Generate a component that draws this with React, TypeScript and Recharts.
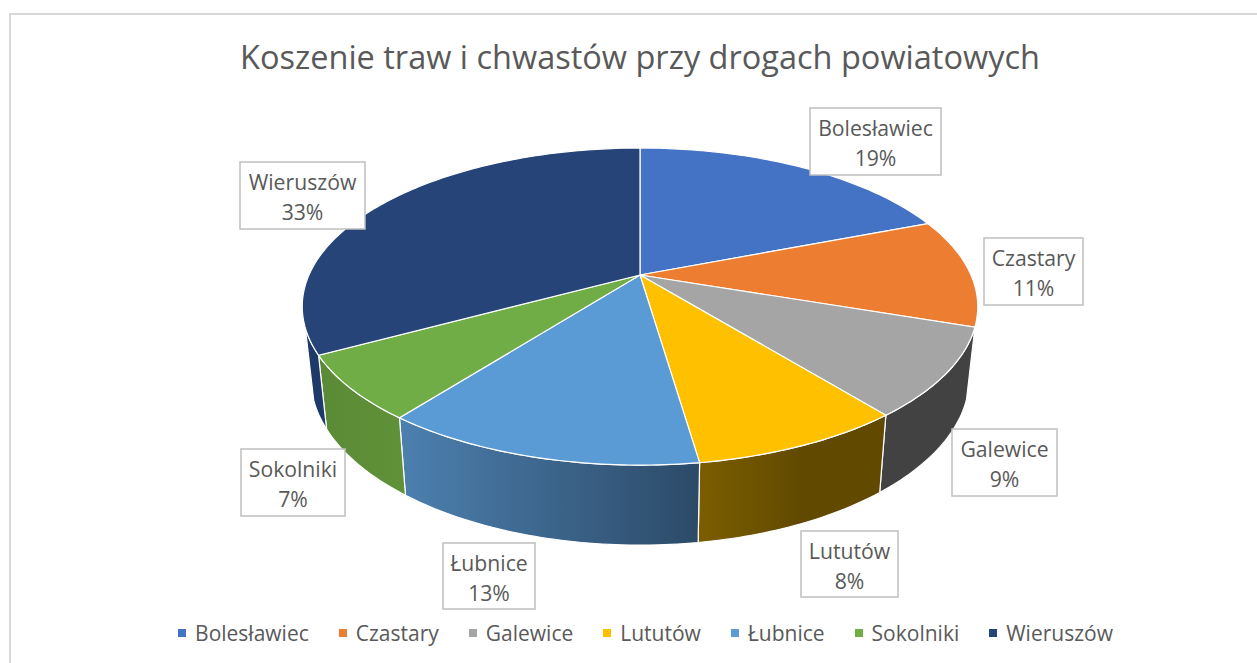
import { Legend, Pie, PieChart } from "recharts"

const categories = ["Bolesławiec", "Czastary", "Galewice", "Lututów", "Łubnice", "Sokolniki", "Wieruszów"]
const shares = [19.1, 11.1, 9.0, 8.49, 12.8, 6.6, 32.91]
const topColors = ["#4472C4", "#ED7D31", "#A5A5A5", "#FFC000", "#5B9BD5", "#70AD47", "#264478"]
const wallStart = ["#4472C4", "#ED7D31", "#424242", "#7C5E00", "#4C80AF", "#5A8A35", "#1E3A68"]
const wallEnd = ["#4472C4", "#ED7D31", "#424242", "#614900", "#2C4A68", "#609239", "#1E3A68"]
const wallBreak = ["100%", "100%", "100%", "55%", "100%", "100%", "100%"]

const rows = categories.map((name, i) => ({ name, value: shares[i], fill: topColors[i] }))

// label boxes, x0 y0 x1 y1
const labelBoxes = [
  [810, 108, 941, 175],
  [984, 238, 1083, 305],
  [952, 429, 1057, 496],
  [801, 531, 898, 597],
  [443, 543, 535, 609],
  [241, 449, 345, 516],
  [240, 162, 365, 229],
]

const W = 1257
const H = 663
const FONT = "'Open Sans', sans-serif"
const TEXT = "#595959"

// excel style perspective of the disc
const TILT = 0.46
const PERSP = 0.199
const WALL_FROM = 108.7
const WALL_TO = 251

function project(cx: number, cy: number, r: number, theta: number) {
  const t = (theta * Math.PI) / 180
  const u = Math.sin(t)
  const v = Math.cos(t)
  const d = 1 + PERSP * v
  return { x: cx + (r * u) / d, y: cy - (r * TILT * v) / d }
}

function lower(cx: number, p: { x: number; y: number }) {
  return { x: cx + (p.x - cx) * 0.975, y: p.y * 1.056 + 54 }
}

function rimPoints(cx: number, cy: number, r: number, from: number, to: number) {
  const pts = []
  const steps = Math.max(2, Math.ceil(Math.abs(to - from)))
  for (let i = 0; i <= steps; i++) {
    pts.push(project(cx, cy, r, from + ((to - from) * i) / steps))
  }
  return pts
}

const toPath = (pts: { x: number; y: number }[]) =>
  pts.map((p, i) => `${i ? "L" : "M"}${p.x.toFixed(2)},${p.y.toFixed(2)}`).join(" ")

function TopFace(props: any) {
  const { cx, cy, outerRadius, startAngle, endAngle, fill } = props
  const pts = rimPoints(cx, cy, outerRadius, 90 - startAngle, 90 - endAngle)
  return <path d={`M${cx},${cy} ${toPath(pts).replace("M", "L")} Z`} fill={fill} stroke="#fff" strokeWidth={1.2} />
}

function WallFace(props: any) {
  const { cx, cy, outerRadius, startAngle, endAngle, name } = props
  const from = Math.max(90 - startAngle, WALL_FROM)
  const to = Math.min(90 - endAngle, WALL_TO)
  if (to <= from) return null
  const i = categories.indexOf(name)
  const top = rimPoints(cx, cy, outerRadius, from, to)
  const bottom = top.map((p) => lower(cx, p)).reverse()
  const id = `wall-${i}`
  // Lututów runs right to left along the rim, its bright end sits on the left
  return (
    <g>
      <defs>
        <linearGradient id={id} x1="0" y1="0" x2="1" y2="0">
          <stop offset="0%" stopColor={wallStart[i]} />
          <stop offset={wallBreak[i]} stopColor={wallEnd[i]} />
        </linearGradient>
      </defs>
      <path d={`${toPath(top)} ${toPath(bottom).replace("M", "L")} Z`} fill={`url(#${id})`} stroke="#fff" strokeWidth={1.2} />
    </g>
  )
}

function BoxLabel(props: any) {
  const { index, name, percent } = props
  const [x0, y0, x1, y1] = labelBoxes[index]
  const mid = (x0 + x1) / 2
  return (
    <g>
      <rect x={x0} y={y0} width={x1 - x0} height={y1 - y0} fill="#fff" stroke="#BFBFBF" strokeWidth={1.5} />
      <text x={mid} y={y0 + 27.5} textAnchor="middle" fill={TEXT} fontSize={21.2} fontFamily={FONT}>
        {name}
      </text>
      <text x={mid} y={y0 + 57.5} textAnchor="middle" fill={TEXT} fontSize={21.2} fontFamily={FONT}>
        {`${Math.round(percent * 100)}%`}
      </text>
    </g>
  )
}

function LegendRow(props: any) {
  const items = (props.payload || []).filter((e: any) => e.type !== "none")
  return (
    <div style={{ display: "flex", justifyContent: "center", gap: 30, fontFamily: FONT, fontSize: 21, color: TEXT, lineHeight: "28px", paddingLeft: 34 }}>
      {items.map((e: any) => (
        <div key={e.value} style={{ display: "flex", alignItems: "center", gap: 9 }}>
          <span style={{ width: 8, height: 8, background: e.color, display: "inline-block" }} />
          {e.value}
        </div>
      ))}
    </div>
  )
}

export default function App() {
  return (
    <div style={{ position: "absolute", left: 0, top: 0, width: W, height: H, overflow: "hidden", background: "#fff" }}>
      <PieChart width={W} height={H} margin={{ top: 0, right: 0, bottom: 0, left: 0 }}>
        <path d={`M10,${H} L10,14 L${W},14`} fill="none" stroke="#D9D9D9" strokeWidth={2} />
        <text x={640} y={69} textAnchor="middle" fill={TEXT} fontSize={32.5} fontFamily={FONT}>
          Koszenie traw i chwastów przy drogach powiatowych
        </text>
        <Pie
          data={rows}
          dataKey="value"
          nameKey="name"
          cx={640}
          cy={275}
          outerRadius={331}
          startAngle={90}
          endAngle={-270}
          legendType="none"
          shape={WallFace}
          isAnimationActive={false}
        />
        <Pie
          data={rows}
          dataKey="value"
          nameKey="name"
          cx={640}
          cy={275}
          outerRadius={331}
          startAngle={90}
          endAngle={-270}
          shape={TopFace}
          label={BoxLabel}
          labelLine={false}
          isAnimationActive={false}
        />
        <Legend content={LegendRow} itemSorter={null} wrapperStyle={{ left: 0, top: 619, width: W }} />
      </PieChart>
    </div>
  )
}
